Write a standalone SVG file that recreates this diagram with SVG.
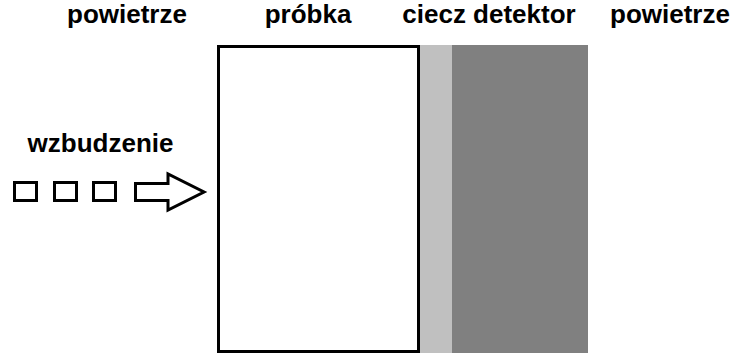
<svg xmlns="http://www.w3.org/2000/svg" width="732" height="358" viewBox="0 0 732 358">
<style>
text{font-family:"Liberation Sans",Arial,sans-serif;font-weight:bold;font-size:26px;fill:#000;text-anchor:middle}
.ol{fill:#fff;stroke:#000;stroke-width:3}
</style>
<rect width="732" height="358" fill="#fff"/>
<g id="labels">
<text x="127" y="23">powietrze</text>
<text x="308" y="23">próbka</text>
<text x="489" y="23">ciecz detektor</text>
<text x="670" y="23">powietrze</text>
</g>
<g id="probka"><rect class="ol" x="218.5" y="46.5" width="200" height="305"/></g>
<g id="ciecz"><rect x="420" y="45" width="32" height="308" fill="#c0c0c0"/></g>
<g id="detektor"><rect x="452" y="45" width="136" height="308" fill="#808080"/></g>
<g id="wzbudzenie">
<text x="100.5" y="152">wzbudzenie</text>
<rect class="ol" x="14.5" y="182.5" width="22" height="18"/>
<rect class="ol" x="54.5" y="182.5" width="22" height="18"/>
<rect class="ol" x="93.5" y="182.5" width="22" height="18"/>
<path class="ol" d="M135.5 183.5 H168 V174 L204 192 L168 210 V200.5 H135.5 Z"/>
</g>
</svg>
